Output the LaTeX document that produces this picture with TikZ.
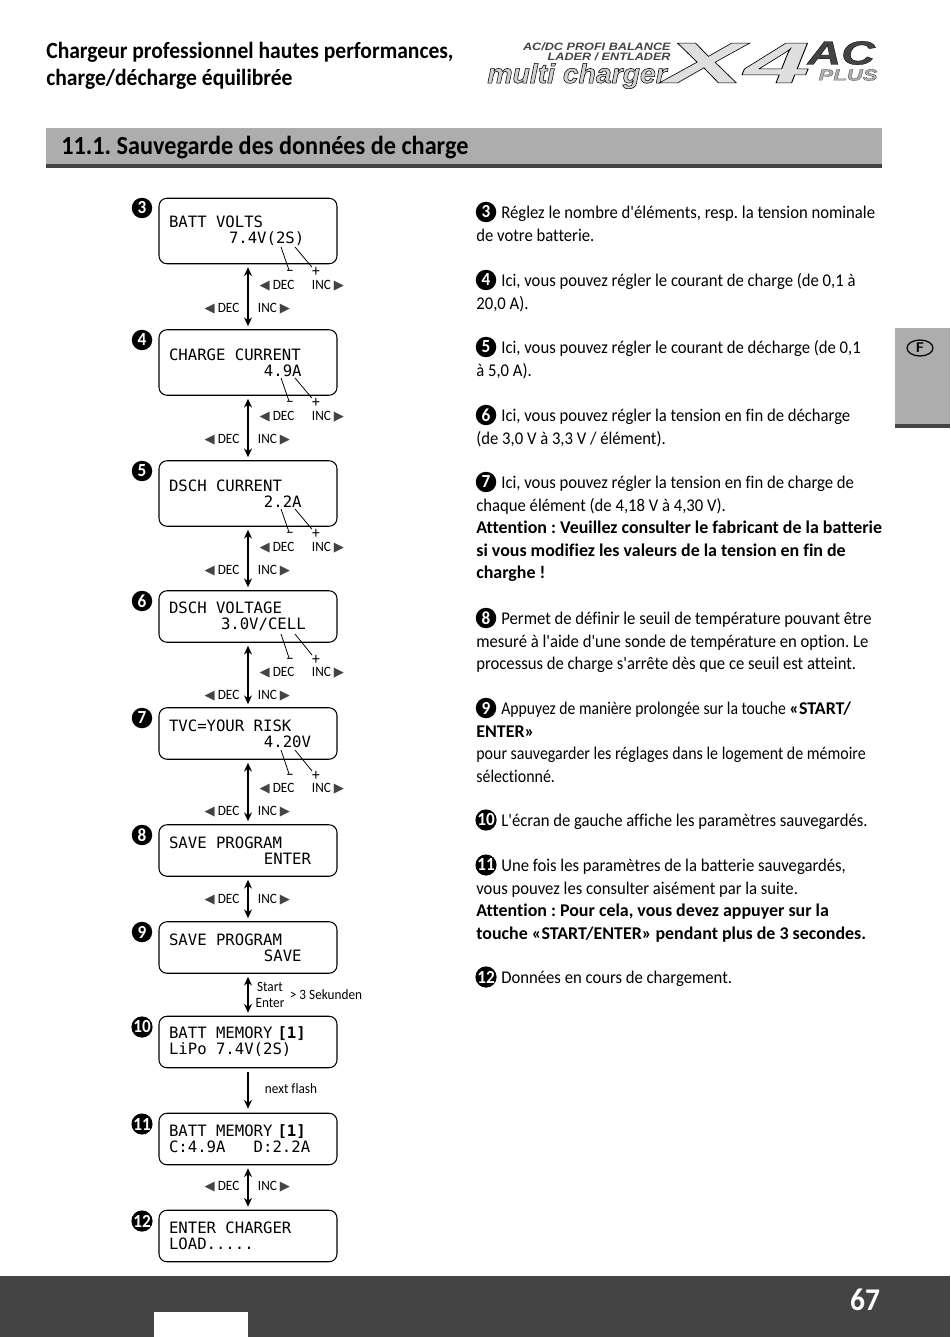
\documentclass[tikz,border=0pt]{standalone}
\usepackage{fontspec}
\setmainfont[FakeStretch=0.93,Ligatures={TeXOff,CommonOff}]{Carlito}
\setmonofont{DejaVu Sans Mono}
\newfontfamily\bodybold[UprightFont=* Bold,Ligatures={TeXOff,CommonOff}]{Carlito}
\newfontfamily\tightfont[FakeStretch=0.89,Ligatures={TeXOff,CommonOff}]{Carlito}
\newfontfamily\tighterfont[FakeStretch=0.875,Ligatures={TeXOff,CommonOff}]{Carlito}
\newfontfamily\trifont{DejaVu Sans}
\newfontfamily\logofont[UprightFont=* Bold Italic]{Liberation Sans}
\newfontfamily\logoline[UprightFont=* Bold Italic,FakeBold=0.8]{Liberation Sans}
\newfontfamily\logoheavy[UprightFont=* Bold Italic,FakeBold=2]{Liberation Sans}
\usetikzlibrary{arrows.meta,shapes.geometric}
\definecolor{bandgray}{HTML}{444444}
\definecolor{bargray}{HTML}{ADADAD}
\newcommand{\tril}{{\trifont\fontsize{7.5}{7.5}\selectfont\textcolor{bandgray}{◀}}}
\newcommand{\trir}{{\trifont\fontsize{7.5}{7.5}\selectfont\textcolor{bandgray}{▶}}}
\newcommand{\DEC}{\tril~DEC}
\newcommand{\INC}{INC~\trir}
\newcommand{\bd}[1]{{\bodybold #1}}
\newcommand{\outl}{\special{pdf:code 0 0 0 RG}}
\newcommand{\lsp}{\hspace*{0.188cm}}

\begin{document}
\frenchspacing
\begin{tikzpicture}[
  x=0.02cm,y=-0.02cm,
  lcd/.style={draw,rounded corners=4.5pt,line width=0.6pt,align=left,
              text width=3.16cm,inner xsep=0.2cm,inner ysep=0pt,
              font=\ttfamily\fontsize{8.9}{9.1}\selectfont},
  tall/.style={lcd,minimum height=1.31cm},
  flat/.style={lcd,minimum height=1.03cm},
  num/.style={circle,fill=black,text=white,inner sep=0pt,minimum size=0.41cm,
              font=\bfseries\fontsize{10.5}{10.5}\selectfont},
  both/.style={{Stealth[length=5pt,width=4.5pt]}-{Stealth[length=5pt,width=4.5pt]},
               line width=0.8pt,shorten <=0.06cm,shorten >=0.06cm},
  down/.style={-{Stealth[length=5pt,width=4.5pt]},line width=0.8pt,
               shorten <=0.08cm,shorten >=0.08cm},
  lead/.style={line width=0.45pt},
  pm/.style={inner sep=0pt,font=\fontsize{9.5}{9.5}\selectfont},
  lab/.style={inner sep=0pt,font=\fontsize{8.1}{9}\selectfont},
  para/.style={anchor=north west,inner sep=0pt,align=left,
               font=\fontsize{10.2}{12.8}\selectfont}
]
\useasboundingbox (0,0) rectangle (950,1337);

% Page furniture
\fill[bargray] (46,128) rectangle (882,164);
\fill[bandgray] (46,164) rectangle (882,168);
\fill[bargray] (895,328) rectangle (950,424);
\fill[bandgray] (895,424) rectangle (950,428);
\fill[bandgray] (0,1276) rectangle (950,1337);
\fill[white] (154,1312) rectangle (248,1337);

\node[anchor=north west,inner sep=0pt,align=left,font=\bfseries\fontsize{13.2}{15.4}\selectfont] (head) at (46,42)
  {Chargeur professionnel hautes performances,\\charge/décharge équilibrée};
\node[anchor=west,inner sep=0pt,font=\bfseries\fontsize{14.85}{16}\selectfont] (sect) at (61,148)
  {11.1. Sauvegarde des données de charge};
\node[ellipse,draw,line width=0.7pt,inner sep=0pt,minimum width=0.52cm,minimum height=0.32cm,
      font=\sffamily\bfseries\fontsize{8}{8}\selectfont] (tab) at (920,348) {F};
\node[text=white,inner sep=0pt,font=\bfseries\fontsize{18}{18}\selectfont] (page) at (865,1300) {67};

% Logo
\node[anchor=east,inner sep=0pt,xscale=1.18,text=bandgray,align=right,font=\logofont\fontsize{6.1}{5.9}\selectfont] (logoa) at (671,52)
  {AC/DC PROFI BALANCE\\LADER / ENTLADER};
\node[anchor=west,inner sep=0pt,xscale=1.04,text=gray!35,font=\logoheavy\fontsize{15.5}{16}\selectfont] (logob) at (487,76) {\outl multi charger};
\node[anchor=west,inner sep=0pt,xscale=2.05,text=gray!25,font=\logoline\fontsize{33}{33}\selectfont] (logoc) at (664,63) {\outl X4};
\node[anchor=west,inner sep=0pt,xscale=1.4,text=bandgray,font=\logoline\fontsize{19}{19}\selectfont] (logod) at (807,53) {\outl AC};
\node[anchor=west,inner sep=0pt,xscale=1.4,text=gray!60,font=\logoline\fontsize{9}{9}\selectfont] (logoe) at (818,75) {\outl PLUS};

% Displays
\node[tall] (b3) at (248,231) {BATT\lsp VOLTS\\\hspace*{1.2cm}7.4V(2S)};
\node[tall] (b4) at (248,362.5) {CHARGE\lsp CURRENT\\\hspace*{1.9cm}4.9A};
\node[tall] (b5) at (248,493.5) {DSCH\lsp CURRENT\\\hspace*{1.9cm}2.2A};
\node[flat] (b6) at (248,616.5) {DSCH\lsp VOLTAGE\\\hspace*{1.04cm}3.0V/CELL};
\node[flat] (b7) at (248,733.5) {TVC=YOUR\lsp RISK\\\hspace*{1.9cm}4.20V};
\node[flat] (b8) at (248,850.5) {SAVE\lsp PROGRAM\\\hspace*{1.9cm}ENTER};
\node[flat] (b9) at (248,947.5) {SAVE\lsp PROGRAM\\\hspace*{1.9cm}SAVE};
\node[flat] (b10) at (248,1042) {BATT\lsp MEMORY\hspace{0.1cm}\textbf{[1]}\\LiPo\lsp 7.4V(2S)};
\node[flat] (b11) at (248,1139) {BATT\lsp MEMORY\hspace{0.1cm}\textbf{[1]}\\C:4.9A\lsp\lsp\lsp D:2.2A};
\node[flat] (b12) at (248,1236) {ENTER\lsp CHARGER\\LOAD.....};

% Step numbers
\node[num] (n3) at (142,208) {3};
\node[num] (n4) at (142,340) {4};
\node[num] (n5) at (142,471) {5};
\node[num] (n6) at (142,601) {6};
\node[num] (n7) at (142,718) {7};
\node[num] (n8) at (142,835) {8};
\node[num] (n9) at (142,932) {9};
\node[num] (n10) at (142,1027) {10};
\node[num] (n11) at (142,1124) {11};
\node[num] (n12) at (142,1221) {12};

% Arrows between displays
\draw[both] (b3) -- (b4);
\draw[both] (b4) -- (b5);
\draw[both] (b5) -- (b6);
\draw[both] (b6) -- (b7);
\draw[both] (b7) -- (b8);
\draw[both] (b8) -- (b9);
\draw[both] (b9) -- (b10);
\draw[down] (b10) -- (b11);
\draw[both] (b11) -- (b12);

% Minus and plus leads
\coordinate (c3m) at (281,247); \coordinate (c3p) at (295,247);
\coordinate (c4m) at (281,378); \coordinate (c4p) at (295,378);
\coordinate (c5m) at (281,509); \coordinate (c5p) at (295,509);
\coordinate (c6m) at (281,634); \coordinate (c6p) at (295,634);
\coordinate (c7m) at (281,750); \coordinate (c7p) at (295,750);
\node[pm] (m3) at (290,273) {–}; \node[pm] (p3) at (316,272) {+};
\node[pm] (m4) at (290,404) {–}; \node[pm] (p4) at (316,403) {+};
\node[pm] (m5) at (290,535) {–}; \node[pm] (p5) at (316,534) {+};
\node[pm] (m6) at (290,661) {–}; \node[pm] (p6) at (316,660) {+};
\node[pm] (m7) at (290,777) {–}; \node[pm] (p7) at (316,776) {+};
\draw[lead] (c3m) -- (m3); \draw[lead] (c3p) -- (p3);
\draw[lead] (c4m) -- (m4); \draw[lead] (c4p) -- (p4);
\draw[lead] (c5m) -- (m5); \draw[lead] (c5p) -- (p5);
\draw[lead] (c6m) -- (m6); \draw[lead] (c6p) -- (p6);
\draw[lead] (c7m) -- (m7); \draw[lead] (c7p) -- (p7);

% Key labels
\node[lab] (d3) at (277,286) {\DEC}; \node[lab] (i3) at (328,286) {\INC};
\node[lab] (e3) at (222,309) {\DEC}; \node[lab] (j3) at (274,309) {\INC};
\node[lab] (d4) at (277,417) {\DEC}; \node[lab] (i4) at (328,417) {\INC};
\node[lab] (e4) at (222,440) {\DEC}; \node[lab] (j4) at (274,440) {\INC};
\node[lab] (d5) at (277,548) {\DEC}; \node[lab] (i5) at (328,548) {\INC};
\node[lab] (e5) at (222,571) {\DEC}; \node[lab] (j5) at (274,571) {\INC};
\node[lab] (d6) at (277,673) {\DEC}; \node[lab] (i6) at (328,673) {\INC};
\node[lab] (e6) at (222,696) {\DEC}; \node[lab] (j6) at (274,696) {\INC};
\node[lab] (d7) at (277,789) {\DEC}; \node[lab] (i7) at (328,789) {\INC};
\node[lab] (e7) at (222,812) {\DEC}; \node[lab] (j7) at (274,812) {\INC};
\node[lab] (e8) at (222,900) {\DEC}; \node[lab] (j8) at (274,900) {\INC};
\node[lab] (e11) at (222,1187) {\DEC}; \node[lab] (j11) at (274,1187) {\INC};
\node[lab,align=center] (start) at (270,995) {Start\\Enter};
\node[lab] (sek) at (326,995) {> 3 Sekunden};
\node[lab] (flash) at (291,1089) {next flash};

% Right column
\node[num] (r3) at (486,212) {3};
\node[num] (r4) at (486,280) {4};
\node[num] (r5) at (486,347) {5};
\node[num] (r6) at (486,415) {6};
\node[num] (r7) at (486,482) {7};
\node[num] (r8) at (486,618) {8};
\node[num] (r9) at (486,708) {9};
\node[num] (r10) at (486,820) {10};
\node[num] (r11) at (486,865) {11};
\node[num] (r12) at (486,977) {12};

\node[para] (t3) at (476,206) {\hspace*{0.5cm}Réglez le nombre d'éléments, resp. la tension nominale\\de votre batterie.};
\node[para] (t4) at (476,273.5) {\hspace*{0.5cm}Ici, vous pouvez régler le courant de charge (de 0,1 à\\20,0 A).};
\node[para] (t5) at (476,340.5) {\hspace*{0.5cm}Ici, vous pouvez régler le courant de décharge (de 0,1\\à 5,0 A).};
\node[para] (t6) at (476,409) {\hspace*{0.5cm}Ici, vous pouvez régler la tension en fin de décharge\\(de 3,0 V à 3,3 V / élément).};
\node[para] (t7) at (476,476) {\hspace*{0.5cm}Ici, vous pouvez régler la tension en fin de charge de\\chaque élément (de 4,18 V à 4,30 V).\\
  \bd{Attention : Veuillez consulter le fabricant de la batterie}\\
  \bd{si vous modifiez les valeurs de la tension en fin de}\\\bd{charghe !}};
\node[para] (t8) at (476,612) {\hspace*{0.5cm}Permet de définir le seuil de température pouvant être\\mesuré à l'aide d'une sonde de température en option. Le\\processus de charge s'arrête dès que ce seuil est atteint.};
\node[para,font=\tightfont\fontsize{10.2}{12.8}\selectfont] (t9) at (476,702) {\hspace*{0.5cm}{\tighterfont Appuyez de manière prolongée sur la touche} \bd{«START/}\\\bd{ENTER»}\\pour sauvegarder les réglages dans le logement de mémoire\\sélectionné.};
\node[para] (t10) at (476,814) {\hspace*{0.5cm}L'écran de gauche affiche les paramètres sauvegardés.};
\node[para] (t11) at (476,859) {\hspace*{0.5cm}Une fois les paramètres de la batterie sauvegardés,\\vous pouvez les consulter aisément par la suite.\\
  \bd{Attention : Pour cela, vous devez appuyer sur la}\\
  \bd{touche «START/ENTER» pendant plus de 3 secondes.}};
\node[para] (t12) at (476,971) {\hspace*{0.5cm}Données en cours de chargement.};

\end{tikzpicture}
\end{document}
